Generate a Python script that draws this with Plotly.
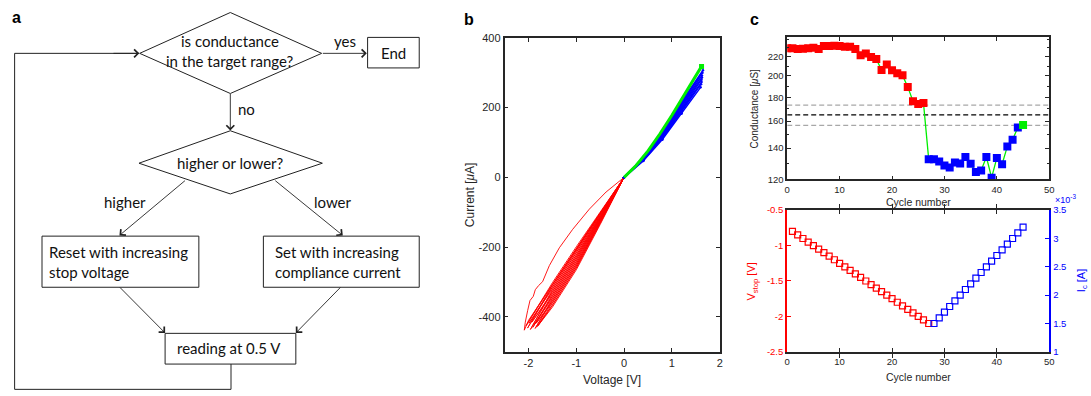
import plotly.graph_objects as go

W, H = 1091, 396

# ---------------- panel b data (I-V sweeps) ----------------
# reset sweeps (red): out and back, V in volts, I in microampere
reset_V = [
    [0, -0.5, -1.0, -1.5, -1.8, -2.0, -2.088, -2.067, -2.018, -1.969, -1.9, -1.858, -1.788, -1.705, -1.564, -1.355, -1.076, -0.727, -0.377, 0],
    [0, -0.5, -1.0, -1.5, -2.05, -1.5, -1.0, -0.5, 0],
    [0, -0.5, -1.0, -1.5, -2.02, -1.5, -1.0, -0.5, 0],
    [0, -0.5, -1.0, -1.5, -1.99, -1.5, -1.0, -0.5, 0],
    [0, -0.5, -1.0, -1.5, -1.96, -1.5, -1.0, -0.5, 0],
    [0, -0.5, -1.0, -1.5, -1.93, -1.5, -1.0, -0.5, 0],
    [0, -0.5, -1.0, -1.5, -1.91, -1.5, -1.0, -0.5, 0],
    [0, -0.5, -1.0, -1.5, -1.88, -1.5, -1.0, -0.5, 0],
    [0, -0.5, -1.0, -1.5, -1.86, -1.5, -1.0, -0.5, 0],
    [0, -0.5, -1.0, -1.5, -1.84, -1.5, -1.0, -0.5, 0],
    [0, -0.5, -1.0, -1.5, -1.82, -1.5, -1.0, -0.5, 0],
    [0, -0.5, -1.0, -1.5, -1.80, -1.5, -1.0, -0.5, 0],
]
reset_I = [
    [0, -103, -204, -307, -368, -410, -438, -415, -382, -353, -341, -322, -310, -299, -253, -202, -149, -91, -42, 0],
    [0, -103, -204, -307, -425, -302, -199, -100, 0],
    [0, -106, -210, -314, -432, -309, -205, -103, 0],
    [0, -109, -216, -320, -418, -315, -211, -106, 0],
    [0, -112, -222, -327, -436, -322, -217, -109, 0],
    [0, -116, -228, -333, -415, -328, -223, -113, 0],
    [0, -119, -234, -340, -430, -335, -229, -116, 0],
    [0, -122, -240, -346, -422, -341, -235, -119, 0],
    [0, -125, -247, -353, -433, -348, -242, -122, 0],
    [0, -128, -253, -359, -418, -354, -248, -125, 0],
    [0, -132, -259, -366, -428, -361, -254, -129, 0],
    [0, -135, -265, -372, -425, -367, -260, -132, 0],
]
# set sweeps (blue)
set_V = [
    [0, 0.4, 0.8, 1.2, 1.60, 1.2, 0.8, 0.4, 0],
    [0, 0.4, 0.8, 1.2, 1.61, 1.2, 0.8, 0.4, 0],
    [0, 0.4, 0.8, 1.2, 1.62, 1.2, 0.8, 0.4, 0],
    [0, 0.4, 0.8, 1.2, 1.62, 1.2, 0.8, 0.4, 0],
    [0, 0.4, 0.8, 1.2, 1.63, 1.2, 0.8, 0.4, 0],
    [0, 0.4, 0.8, 1.2, 1.63, 1.2, 0.8, 0.4, 0],
    [0, 0.4, 0.8, 1.2, 1.64, 1.2, 0.8, 0.4, 0],
    [0, 0.4, 0.8, 1.2, 1.65, 1.2, 0.8, 0.4, 0],
]
set_I = [
    [0, 48, 110, 184, 258, 182, 108, 47, 0],
    [0, 49, 114, 190, 267, 188, 112, 48, 0],
    [0, 50, 117, 195, 273, 193, 115, 49, 0],
    [0, 52, 119, 199, 280, 197, 117, 51, 0],
    [0, 53, 122, 204, 286, 202, 120, 52, 0],
    [0, 54, 125, 208, 292, 206, 123, 53, 0],
    [0, 55, 127, 213, 300, 211, 125, 54, 0],
    [0, 56, 130, 217, 307, 215, 128, 55, 0],
]
# final set sweep (green)
final_V = [0, 0.25, 0.5, 0.75, 1.0, 1.25, 1.5, 1.62]
final_I = [0, 34, 76, 125, 178, 235, 290, 318]

# ---------------- panel c data ----------------
cycles = [0, 1, 2, 3, 4, 5, 6, 7, 8, 9, 10, 11, 12, 13, 14, 15, 16, 17, 18, 19, 20, 21, 22,
          23, 24, 25, 26, 27, 28, 29, 30, 31, 32, 33, 34, 35, 36, 37, 38, 39, 40, 41, 42, 43, 44, 45]
conductance = [229.5, 229.5, 228.5, 228.8, 229.5, 230.0, 228.5, 232.0, 232.0, 232.3, 232.0, 231.0,
               231.0, 228.5, 221.6, 223.4, 219.6, 217.5, 206.0, 211.7, 205.7, 202.7, 200.6,
               189.5, 176.5, 174.2, 175.0, 132.5, 132.5, 131.0, 128.5, 127.3, 130.4, 129.8,
               134.0, 129.6, 124.4, 125.4, 134.0, 121.0, 133.4, 129.3, 141.2, 146.0, 155.0, 157.0]
n_reset = 27          # cycles 0..26 are reset (red)
n_set_end = 45        # cycles 27..44 set (blue), 45 final (green)
target_center = 165.0
target_upper = 173.25
target_lower = 156.75

vstop_cycles = [1, 2, 3, 4, 5, 6, 7, 8, 9, 10, 11, 12, 13, 14, 15, 16, 17, 18, 19, 20, 21, 22, 23, 24, 25, 26, 27]
vstop = [-0.80, -0.85, -0.90, -0.95, -1.00, -1.05, -1.10, -1.15, -1.20, -1.25, -1.30, -1.35, -1.40,
         -1.45, -1.50, -1.55, -1.60, -1.65, -1.70, -1.75, -1.80, -1.85, -1.90, -1.95, -2.00, -2.05, -2.10]
ic_cycles = [28, 29, 30, 31, 32, 33, 34, 35, 36, 37, 38, 39, 40, 41, 42, 43, 44, 45]
ic_mA = [1.5, 1.6, 1.7, 1.8, 1.9, 2.0, 2.1, 2.2, 2.3, 2.4, 2.5, 2.6, 2.7, 2.8, 2.9, 3.0, 3.1, 3.2]

ivx_ticks = [-2, -1, 0, 1, 2]
ivx_text = ["-2", "-1", "0", "1", "2"]
ivy_ticks = [-400, -200, 0, 200, 400]
ivy_text = ["-400", "-200", "0", "200", "400"]
cyc_ticks = [0, 10, 20, 30, 40, 50]
g_ticks = [120, 140, 160, 180, 200, 220]
g_minor = [130, 150, 170, 190, 210, 230, 240]
v_ticks = [-2.5, -2, -1.5, -1, -0.5]
v_text = ["-2.5", "-2", "-1.5", "-1", "-0.5"]
i_ticks = [1, 1.5, 2, 2.5, 3, 3.5]
i_text = ["1", "1.5", "2", "2.5", "3", "3.5"]

RED, BLUE, GREEN = "#ff0000", "#0000ff", "#00ee00"
AX = "#262626"
FONT = "Liberation Sans, Arial, sans-serif"
FLOW_FONT = "Lato, Open Sans, sans-serif"


def px(x):
    return x / W


def py(y):
    return 1 - y / H


fig = go.Figure()

# ---- panel b traces ----
for vv, ii in zip(reset_V, reset_I):
    fig.add_trace(go.Scatter(x=vv, y=ii, mode="lines", line=dict(color=RED, width=0.9),
                             xaxis="x", yaxis="y", hoverinfo="skip"))
for vv, ii in zip(set_V, set_I):
    fig.add_trace(go.Scatter(x=vv, y=ii, mode="lines+markers", line=dict(color=BLUE, width=1.4),
                             marker=dict(color=BLUE, size=2.5), xaxis="x", yaxis="y"))
fig.add_trace(go.Scatter(x=final_V, y=final_I, mode="lines", line=dict(color=GREEN, width=3),
                         xaxis="x", yaxis="y"))
fig.add_trace(go.Scatter(x=final_V[-1:], y=final_I[-1:], mode="markers",
                         marker=dict(symbol="square", color=GREEN, size=5), xaxis="x", yaxis="y"))

# ---- panel c top traces ----
for lvl, col in [(target_upper, "#a8a8a8"), (target_center, "#000000"), (target_lower, "#a8a8a8")]:
    fig.add_trace(go.Scatter(x=[0, 50], y=[lvl, lvl], mode="lines",
                             line=dict(color=col, width=1.2, dash="5px,3px"), xaxis="x2", yaxis="y2"))
fig.add_trace(go.Scatter(x=cycles, y=conductance, mode="lines", line=dict(color=GREEN, width=1.3),
                         xaxis="x2", yaxis="y2"))
fig.add_trace(go.Scatter(x=cycles[:n_reset], y=conductance[:n_reset], mode="markers",
                         marker=dict(symbol="square", color=RED, size=8), xaxis="x2", yaxis="y2"))
fig.add_trace(go.Scatter(x=cycles[n_reset:n_set_end], y=conductance[n_reset:n_set_end], mode="markers",
                         marker=dict(symbol="square", color=BLUE, size=8), xaxis="x2", yaxis="y2"))
fig.add_trace(go.Scatter(x=cycles[n_set_end:], y=conductance[n_set_end:], mode="markers",
                         marker=dict(symbol="square", color=GREEN, size=8), xaxis="x2", yaxis="y2"))

# ---- panel c bottom traces ----
fig.add_trace(go.Scatter(x=vstop_cycles, y=vstop, mode="markers",
                         marker=dict(symbol="square-open", color=RED, size=6, line=dict(width=1.2)),
                         xaxis="x3", yaxis="y3"))
fig.add_trace(go.Scatter(x=ic_cycles, y=ic_mA, mode="markers",
                         marker=dict(symbol="square-open", color=BLUE, size=6, line=dict(width=1.2)),
                         xaxis="x3", yaxis="y4"))

tickfont_b = dict(family=FONT, size=11, color=AX)
tickfont_c = dict(family=FONT, size=9.5, color=AX)

common = dict(showgrid=False, zeroline=False, showline=True, linewidth=1.6, linecolor=AX,
              ticks="inside", ticklen=4, tickwidth=1, tickcolor=AX, mirror="allticks")

fig.update_layout(
    width=W, height=H, margin=dict(l=0, r=0, t=0, b=0), showlegend=False,
    paper_bgcolor="white", plot_bgcolor="white",
    xaxis=dict(domain=[px(505.3), px(722)], range=[-2.5, 2], tickvals=ivx_ticks, ticktext=ivx_text,
               tickfont=tickfont_b, anchor="y", **common),
    yaxis=dict(domain=[py(355.7), py(32.7)], range=[-500, 400], tickvals=ivy_ticks, ticktext=ivy_text,
               tickfont=tickfont_b, anchor="x", **common),
    xaxis2=dict(domain=[px(790), px(1054)], range=[0, 50], tickvals=cyc_ticks,
                tickfont=tickfont_c, anchor="y2", **common),
    yaxis2=dict(domain=[py(178.3), py(32.3)], type="log", range=[2.0792, 2.3838], tickvals=g_ticks,
                tickfont=tickfont_c, anchor="x2",
                minor=dict(tickvals=g_minor, ticks="inside", ticklen=2, tickcolor=AX), **common),
    xaxis3=dict(domain=[px(790), px(1054)], range=[0, 50], tickvals=cyc_ticks,
                tickfont=tickfont_c, anchor="y3", showgrid=False, zeroline=False, showline=True,
                linewidth=1.6, linecolor=AX, ticks="inside", ticklen=4, tickcolor=AX, mirror="allticks"),
    yaxis3=dict(domain=[py(355.7), py(210)], range=[-2.5, -0.5], tickvals=v_ticks, ticktext=v_text,
                tickfont=dict(family=FONT, size=9.5, color=RED), anchor="x3", showgrid=False,
                zeroline=False, showline=True, linewidth=2, linecolor=RED, ticks="inside",
                ticklen=4, tickcolor=RED),
    yaxis4=dict(domain=[py(355.7), py(210)], range=[1, 3.5], tickvals=i_ticks, ticktext=i_text,
                tickfont=dict(family=FONT, size=9.5, color=BLUE), anchor="x3", overlaying="y3",
                side="right", showgrid=False, zeroline=False, showline=True, linewidth=2,
                linecolor=BLUE, ticks="inside", ticklen=4, tickcolor=BLUE),
)

ann = []


def text(x, y, s, size=15, family=FLOW_FONT, color="#111", xanchor="center", angle=0, bold=False):
    if bold:
        s = "<b>" + s + "</b>"
    ann.append(dict(x=px(x), y=py(y), xref="paper", yref="paper", text=s, showarrow=False,
                    xanchor=xanchor, yanchor="middle", textangle=angle,
                    font=dict(family=family, size=size, color=color)))


def arrow(tx, ty, hx, hy):
    ann.append(dict(x=px(hx), y=py(hy), xref="paper", yref="paper", ax=tx - hx, ay=ty - hy,
                    axref="pixel", ayref="pixel", text="", showarrow=True, arrowhead=4,
                    arrowsize=1.7, arrowwidth=0.9, arrowcolor="#222", standoff=0, startstandoff=0))


# ---- panel a : flowchart ----
LC = "#222"
shapes = []


def path(points, closed=False):
    d = "M " + " L ".join(f"{px(x):.5f},{py(y):.5f}" for x, y in points)
    if closed:
        d += " Z"
    shapes.append(dict(type="path", path=d, xref="paper", yref="paper",
                       line=dict(color=LC, width=1), fillcolor="rgba(0,0,0,0)"))


def rect(x0, y0, x1, y1):
    shapes.append(dict(type="rect", x0=px(x0), x1=px(x1), y0=py(y1), y1=py(y0), xref="paper",
                       yref="paper", line=dict(color=LC, width=1)))


path([(137.7, 48.7), (229, 6.7), (321, 48.7), (229, 90)], closed=True)
path([(137, 161.7), (229, 128.3), (321.7, 161.7), (229, 193.3)], closed=True)
rect(367.3, 32.3, 419.3, 63.7)
rect(39.3, 236.7, 197.3, 289.3)
rect(262.3, 236.7, 419.3, 289.3)
rect(163.3, 336.7, 295, 368.3)
path([(229.7, 368.3), (229.7, 394.3), (11.7, 394.3), (11.7, 48.7), (137.0, 48.7)])

arrow(321, 48.7, 366.5, 48.7)
arrow(229, 90, 229, 128)
arrow(184.3, 180, 117.3, 236)
arrow(273.3, 180, 342.3, 236)
arrow(116.7, 289.3, 163.3, 336.3)
arrow(341, 289.3, 295, 336.3)
arrow(110, 48.7, 137.3, 48.7)

text(229, 36.2, "is conductance")
text(229, 56.2, "in the target range?")
text(345, 35.5, "yes")
text(393, 48, "End")
text(245, 105.5, "no")
text(229, 161.2, "higher or lower?")
text(123.3, 201.8, "higher")
text(332.3, 201.8, "lower")
text(44.3, 253.5, "Reset with increasing", xanchor="left")
text(44.3, 273.5, "stop voltage", xanchor="left")
text(272.3, 253.5, "Set with increasing", xanchor="left")
text(272.3, 273.5, "compliance current", xanchor="left")
text(173.3, 352.2, "reading at 0.5 V", xanchor="left")

# panel labels
text(14, 12, "a", size=16, family=FONT, color="#000", bold=True)
text(469, 14, "b", size=16, family=FONT, color="#000", bold=True)
text(757, 14, "c", size=16, family=FONT, color="#000", bold=True)

# axis titles
text(613, 385, "Voltage [V]", size=12, family=FONT, color=AX)
text(470, 194, "Current [<i>μ</i>A]", size=12, family=FONT, color=AX, angle=-90)
text(922, 201.5, "Cycle number", size=10.5, family=FONT, color=AX)
text(757, 105, "Conductance [<i>μ</i>S]", size=10, family=FONT, color=AX, angle=-90)
text(922, 381.5, "Cycle number", size=10.5, family=FONT, color=AX)
text(755, 283, "V<sub>stop</sub> [V]", size=11, family=FONT, color=RED, angle=-90)
text(1087, 283, "I<sub>c</sub> [A]", size=11, family=FONT, color=BLUE, angle=-90)
text(1070, 199, "×10<sup>-3</sup>", size=9, family=FONT, color=BLUE)

fig.update_layout(annotations=ann, shapes=shapes)

fig.write_html("out.html")
